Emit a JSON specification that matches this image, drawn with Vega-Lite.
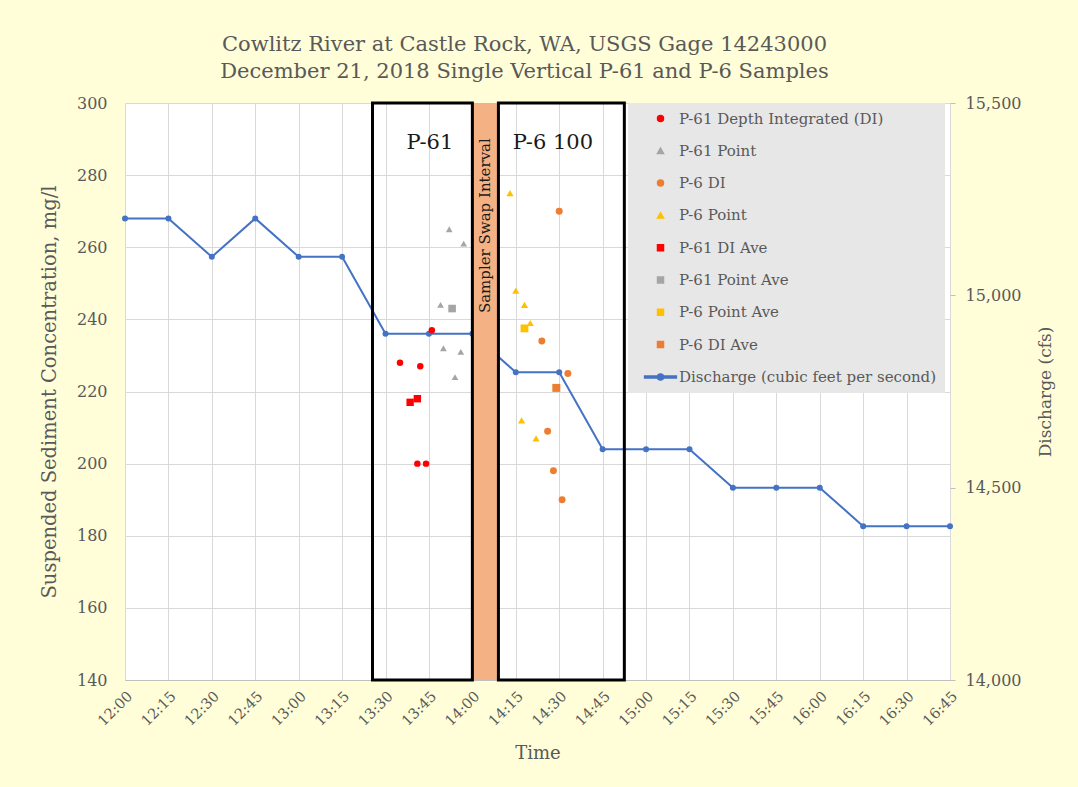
{
  "$schema": "https://vega.github.io/schema/vega-lite/v6.json",
  "width": 825,
  "height": 577,
  "autosize": {"type": "none"},
  "padding": {"left": 125, "top": 103, "right": 128, "bottom": 107},
  "background": "#fffed8",
  "title": {
    "text": ["Cowlitz River at Castle Rock, WA, USGS Gage 14243000", "December 21, 2018 Single Vertical P-61 and P-6 Samples"],
    "font": "DejaVu Serif", "fontSize": 21, "fontWeight": "normal", "color": "#595959",
    "lineHeight": 27, "offset": 13, "dx": -13, "anchor": "middle"
  },
  "config": {
    "view": {"stroke": null, "fill": "white"},
    "axis": {"labelFont": "DejaVu Serif", "labelColor": "#595959", "titleFont": "DejaVu Serif", "titleFontWeight": "normal", "titleColor": "#595959"}
  },
  "datasets": {
    "discharge": [
      {"t": "2018-12-21T12:00:00", "q": 15200, "series": "Discharge (cubic feet per second)"},
      {"t": "2018-12-21T12:15:00", "q": 15200, "series": "Discharge (cubic feet per second)"},
      {"t": "2018-12-21T12:30:00", "q": 15100, "series": "Discharge (cubic feet per second)"},
      {"t": "2018-12-21T12:45:00", "q": 15200, "series": "Discharge (cubic feet per second)"},
      {"t": "2018-12-21T13:00:00", "q": 15100, "series": "Discharge (cubic feet per second)"},
      {"t": "2018-12-21T13:15:00", "q": 15100, "series": "Discharge (cubic feet per second)"},
      {"t": "2018-12-21T13:30:00", "q": 14900, "series": "Discharge (cubic feet per second)"},
      {"t": "2018-12-21T13:45:00", "q": 14900, "series": "Discharge (cubic feet per second)"},
      {"t": "2018-12-21T14:00:00", "q": 14900, "series": "Discharge (cubic feet per second)"},
      {"t": "2018-12-21T14:15:00", "q": 14800, "series": "Discharge (cubic feet per second)"},
      {"t": "2018-12-21T14:30:00", "q": 14800, "series": "Discharge (cubic feet per second)"},
      {"t": "2018-12-21T14:45:00", "q": 14600, "series": "Discharge (cubic feet per second)"},
      {"t": "2018-12-21T15:00:00", "q": 14600, "series": "Discharge (cubic feet per second)"},
      {"t": "2018-12-21T15:15:00", "q": 14600, "series": "Discharge (cubic feet per second)"},
      {"t": "2018-12-21T15:30:00", "q": 14500, "series": "Discharge (cubic feet per second)"},
      {"t": "2018-12-21T15:45:00", "q": 14500, "series": "Discharge (cubic feet per second)"},
      {"t": "2018-12-21T16:00:00", "q": 14500, "series": "Discharge (cubic feet per second)"},
      {"t": "2018-12-21T16:15:00", "q": 14400, "series": "Discharge (cubic feet per second)"},
      {"t": "2018-12-21T16:30:00", "q": 14400, "series": "Discharge (cubic feet per second)"},
      {"t": "2018-12-21T16:45:00", "q": 14400, "series": "Discharge (cubic feet per second)"}
    ],
    "samples": [
      {"series": "P-61 DI Ave", "t": "2018-12-21T13:38:30", "v": 217},
      {"series": "P-61 DI Ave", "t": "2018-12-21T13:41:00", "v": 218},
      {"series": "P-61 Point Ave", "t": "2018-12-21T13:53:00", "v": 243},
      {"series": "P-6 Point Ave", "t": "2018-12-21T14:18:00", "v": 237.5},
      {"series": "P-6 DI Ave", "t": "2018-12-21T14:29:00", "v": 221},
      {"series": "P-61 Depth Integrated (DI)", "t": "2018-12-21T13:35:00", "v": 228},
      {"series": "P-61 Depth Integrated (DI)", "t": "2018-12-21T13:42:00", "v": 227},
      {"series": "P-61 Depth Integrated (DI)", "t": "2018-12-21T13:46:00", "v": 237},
      {"series": "P-61 Depth Integrated (DI)", "t": "2018-12-21T13:41:00", "v": 200},
      {"series": "P-61 Depth Integrated (DI)", "t": "2018-12-21T13:44:00", "v": 200},
      {"series": "P-61 Point", "t": "2018-12-21T13:52:00", "v": 265},
      {"series": "P-61 Point", "t": "2018-12-21T13:57:00", "v": 261},
      {"series": "P-61 Point", "t": "2018-12-21T13:49:00", "v": 244},
      {"series": "P-61 Point", "t": "2018-12-21T13:50:00", "v": 232},
      {"series": "P-61 Point", "t": "2018-12-21T13:56:00", "v": 231},
      {"series": "P-61 Point", "t": "2018-12-21T13:54:00", "v": 224},
      {"series": "P-6 DI", "t": "2018-12-21T14:30:00", "v": 270},
      {"series": "P-6 DI", "t": "2018-12-21T14:24:00", "v": 234},
      {"series": "P-6 DI", "t": "2018-12-21T14:33:00", "v": 225},
      {"series": "P-6 DI", "t": "2018-12-21T14:26:00", "v": 209},
      {"series": "P-6 DI", "t": "2018-12-21T14:28:00", "v": 198},
      {"series": "P-6 DI", "t": "2018-12-21T14:31:00", "v": 190},
      {"series": "P-6 Point", "t": "2018-12-21T14:13:00", "v": 275},
      {"series": "P-6 Point", "t": "2018-12-21T14:15:00", "v": 248},
      {"series": "P-6 Point", "t": "2018-12-21T14:18:00", "v": 244},
      {"series": "P-6 Point", "t": "2018-12-21T14:20:00", "v": 239},
      {"series": "P-6 Point", "t": "2018-12-21T14:17:00", "v": 212},
      {"series": "P-6 Point", "t": "2018-12-21T14:22:00", "v": 207}
    ],
    "boxes": [
      {"name": "P-61", "t": "2018-12-21T13:25:30", "t2": "2018-12-21T14:00:00"},
      {"name": "P-6 100", "t": "2018-12-21T14:09:00", "t2": "2018-12-21T14:52:30"}
    ],
    "swap": [
      {"name": "Sampler Swap Interval", "t": "2018-12-21T14:00:00", "t2": "2018-12-21T14:09:00"}
    ],
    "labels": [
      {"label": "P-61", "t": "2018-12-21T13:45:20", "v": 289},
      {"label": "P-6 100", "t": "2018-12-21T14:27:50", "v": 289}
    ],
    "swaplabel": [
      {"label": "Sampler Swap Interval", "t": "2018-12-21T14:04:20", "v": 266}
    ]
  },
  "layer": [
    {
      "data": {"name": "discharge"},
      "mark": {"type": "line", "strokeWidth": 2, "point": {"filled": true, "size": 36}},
      "encoding": {
        "x": {
          "field": "t", "type": "temporal", "title": "Time",
          "scale": {"domain": [{"year": 2018, "month": 12, "date": 21, "hours": 12, "minutes": 0}, {"year": 2018, "month": 12, "date": 21, "hours": 16, "minutes": 45}], "nice": false},
          "axis": {"tickCount": 19, "format": "%H:%M", "labelAngle": -45, "labelFontSize": 14.5, "grid": true, "gridColor": "#d9d9d9", "ticks": false, "domainColor": "#bfbfbf", "labelPadding": 9, "titleFontSize": 18, "titlePadding": 16, "labelFlush": false, "labelOverlap": false}
        },
        "y": {
          "field": "q", "type": "quantitative", "title": "Discharge (cfs)",
          "scale": {"domain": [14000, 15500], "nice": false, "zero": false},
          "axis": {"orient": "right", "values": [14000, 14500, 15000, 15500], "format": ",.0f", "grid": false, "domain": false, "ticks": true, "tickSize": 5, "tickColor": "#bfbfbf", "labelPadding": 10, "labelFontSize": 16, "titleFontSize": 17, "titlePadding": 34, "titleAngle": 270}
        },
        "color": {"field": "series", "type": "nominal", "title": null}
      }
    },
    {
      "layer": [
        {
          "data": {"name": "swap"},
          "mark": {"type": "rect", "color": "#f4b183"},
          "encoding": {
            "x": {"field": "t", "type": "temporal", "title": "Time"},
            "x2": {"field": "t2"},
            "y": {"datum": 300, "type": "quantitative", "title": "Suspended Sediment Concentration, mg/l"},
            "y2": {"datum": 140}
          }
        },
        {
          "data": {"name": "boxes"},
          "mark": {"type": "rect", "fillOpacity": 0, "stroke": "#000000", "strokeWidth": 3},
          "encoding": {
            "x": {"field": "t", "type": "temporal", "title": "Time"},
            "x2": {"field": "t2"},
            "y": {"datum": 300, "type": "quantitative", "title": "Suspended Sediment Concentration, mg/l"},
            "y2": {"datum": 140}
          }
        },
        {
          "data": {"name": "labels"},
          "mark": {"type": "text", "font": "DejaVu Serif", "fontSize": 21, "color": "#1a1a1a", "align": "center", "baseline": "middle"},
          "encoding": {
            "x": {"field": "t", "type": "temporal", "title": "Time"},
            "y": {"field": "v", "type": "quantitative", "title": "Suspended Sediment Concentration, mg/l"},
            "text": {"field": "label"}
          }
        },
        {
          "data": {"name": "swaplabel"},
          "mark": {"type": "text", "font": "DejaVu Serif", "fontSize": 15, "color": "#1a1a1a", "align": "center", "baseline": "middle", "angle": 270},
          "encoding": {
            "x": {"field": "t", "type": "temporal", "title": "Time"},
            "y": {"field": "v", "type": "quantitative", "title": "Suspended Sediment Concentration, mg/l"},
            "text": {"field": "label"}
          }
        },
        {
          "data": {"name": "samples"},
          "mark": {"type": "point", "filled": true, "opacity": 1},
          "encoding": {
            "x": {"field": "t", "type": "temporal", "title": "Time"},
            "y": {
              "field": "v", "type": "quantitative", "title": "Suspended Sediment Concentration, mg/l",
              "scale": {"domain": [140, 300], "nice": false, "zero": false},
              "axis": {"values": [140, 160, 180, 200, 220, 240, 260, 280, 300], "grid": true, "gridColor": "#d9d9d9", "domain": false, "ticks": false, "labelPadding": 18, "labelFontSize": 16, "titleFontSize": 19.5, "titlePadding": 17}
            },
            "color": {
              "field": "series", "type": "nominal", "title": null,
              "scale": {
                "domain": ["P-61 Depth Integrated (DI)", "P-61 Point", "P-6 DI", "P-6 Point", "P-61 DI Ave", "P-61 Point Ave", "P-6 Point Ave", "P-6 DI Ave", "Discharge (cubic feet per second)"],
                "range": ["#ff0000", "#a5a5a5", "#ed7d31", "#ffc000", "#ff0000", "#a5a5a5", "#ffc000", "#ed7d31", "#4472c4"]
              },
              "legend": {
                "orient": "none", "legendX": 503, "legendY": 0,
                "fillColor": "#e7e7e7", "padding": 8, "rowPadding": 16.3,
                "symbolSize": 36, "symbolOffset": 17, "labelOffset": 11,
                "labelFont": "DejaVu Serif", "labelFontSize": 15, "labelColor": "#595959", "labelLimit": 400
              }
            },
            "shape": {
              "field": "series", "type": "nominal", "title": null,
              "scale": {
                "domain": ["P-61 Depth Integrated (DI)", "P-61 Point", "P-6 DI", "P-6 Point", "P-61 DI Ave", "P-61 Point Ave", "P-6 Point Ave", "P-6 DI Ave", "Discharge (cubic feet per second)"],
                "range": ["circle", "triangle-up", "circle", "triangle-up", "square", "square", "square", "square", "M-5.3,-0.33H5.3V0.33H-5.3Z M-1,0A1,1 0 1,1 1,0A1,1 0 1,1 -1,0Z"]
              }
            },
            "size": {
              "field": "series", "type": "ordinal", "legend": null,
              "scale": {
                "domain": ["P-61 Depth Integrated (DI)", "P-61 Point", "P-6 DI", "P-6 Point", "P-61 DI Ave", "P-61 Point Ave", "P-6 Point Ave", "P-6 DI Ave"],
                "range": [42, 64, 49, 64, 169, 169, 169, 169]
              }
            }
          }
        }
      ]
    }
  ],
  "resolve": {"scale": {"y": "independent"}}
}
